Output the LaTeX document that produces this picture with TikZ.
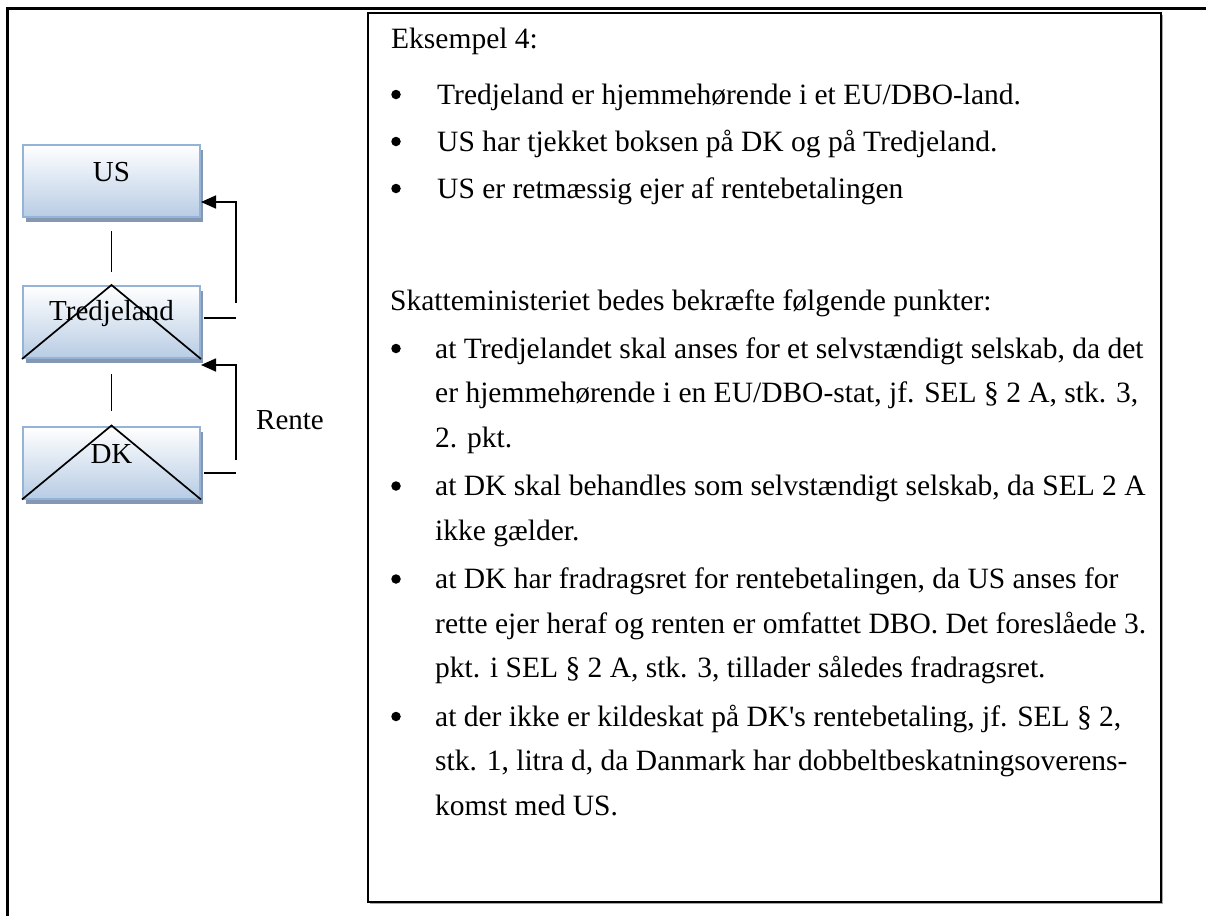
\documentclass[tikz,border=0pt]{standalone}
\usepackage{fontspec}
\usepackage{tikz}
\usetikzlibrary{arrows.meta,shadows}
\setmainfont{Liberation Serif}
\definecolor{boxblue}{HTML}{B8CCE4}
\definecolor{boxline}{HTML}{95B3D7}
\definecolor{shadowblue}{HTML}{8497B3}

\tikzset{
  land/.style={draw=boxline, line width=2pt, top color=white, bottom color=boxblue,
    minimum width=177pt, minimum height=72pt, inner sep=0pt,
    drop shadow={shadow xshift=3pt, shadow yshift=-5pt, fill=shadowblue, opacity=1}},
  lbl/.style={inner sep=0pt, font=\fontsize{29}{35}\selectfont},
  body/.style={anchor=base west, inner sep=0pt, font=\fontsize{29.5}{35}\selectfont},
  dot/.style={circle, fill=black, inner sep=0pt, minimum size=9.5pt, yshift=9.5pt},
  conn/.style={line width=1.7pt},
  pay/.style={line width=1.7pt, -{Triangle[length=15pt,width=13pt]}}
}

\begin{document}
\begin{tikzpicture}[x=1pt,y=-1pt]
\useasboundingbox (0,0) rectangle (1206,916);

% frame
\draw[line width=3pt] (7,916) -- (7,8) -- (1206,8);
\draw[line width=2.5pt, fill=white, drop shadow={shadow xshift=1.5pt, shadow yshift=-1.5pt, fill=black!35, opacity=1}]
  (368,13) rectangle (1161,902);

% countries
\node[land] (us) at (111.5,181) {};
\node[land] (tred) at (111.5,322) {};
\node[land] (dk) at (111.5,462.5) {};
\draw[conn] (tred.south west) -- (tred.north) -- (tred.south east);
\draw[conn] (dk.south west) -- (dk.north) -- (dk.south east);
\node[lbl] (uslbl) at ([yshift=9pt]us.center) {US};
\node[lbl] (tredlbl) at ([yshift=8pt]tred.center) {Tredjeland};
\node[lbl] (dklbl) at ([yshift=8pt]dk.center) {DK};

\draw[conn, shorten <=13pt, shorten >=13pt] (us.south) -- (tred.north);
\draw[conn, shorten <=15pt, shorten >=15pt] (tred.south) -- (dk.north);

% interest
\coordinate (tredout) at (236,318);
\coordinate (tredup) at (236,303);
\coordinate (dkout) at (236,473);
\coordinate (dkup) at (236,460);
\draw[conn] ([xshift=3pt,yshift=4pt]tred.east) -- (tredout);
\draw[pay] (tredup) |- ([yshift=-21pt]us.east);
\draw[conn] ([xshift=3pt,yshift=-10.5pt]dk.east) -- (dkout);
\draw[pay] (dkup) |- ([yshift=-43pt]tred.east);
\node[lbl] (rente) at (290,420) {Rente};

% text
\node[body] (ex) at (391,48) {Eksempel 4:};
\node[dot] (d1) at (396,104) {};
\node[body] (t1) at (437,104) {Tredjeland er hjemmehørende i et EU/DBO-land.};
\node[dot] (d2) at (396,151) {};
\node[body] (t2) at (437,151) {US har tjekket boksen på DK og på Tredjeland.};
\node[dot] (d3) at (396,198) {};
\node[body] (t3) at (437,198) {US er retmæssig ejer af rentebetalingen};

\node[body] (sk) at (390,310) {Skatteministeriet bedes bekræfte følgende punkter:};
\node[dot] (p1) at (396,358) {};
\node[body] (a1) at (435,358) {at Tredjelandet skal anses for et selvstændigt selskab, da det};
\node[body] (a2) at (435,402.5) {er hjemmehørende i en EU/DBO-stat, jf. SEL § 2 A, stk. 3,};
\node[body] (a3) at (435,447) {2. pkt.};
\node[dot] (p2) at (396,495.5) {};
\node[body] (b1) at (435,495.5) {at DK skal behandles som selvstændigt selskab, da SEL 2 A};
\node[body] (b2) at (435,540) {ikke gælder.};
\node[dot] (p3) at (396,588.5) {};
\node[body] (c1) at (435,588.5) {at DK har fradragsret for rentebetalingen, da US anses for};
\node[body] (c2) at (435,633) {rette ejer heraf og renten er omfattet DBO. Det foreslåede 3.};
\node[body] (c3) at (435,677.5) {pkt. i SEL § 2 A, stk. 3, tillader således fradragsret.};
\node[dot] (p4) at (396,726) {};
\node[body] (e1) at (435,726) {at der ikke er kildeskat på DK\textquotesingle s rentebetaling, jf. SEL § 2,};
\node[body] (e2) at (435,770.5) {stk. 1, litra d, da Danmark har dobbeltbeskatningsoverens-};
\node[body] (e3) at (435,815) {komst med US.};

\end{tikzpicture}
\end{document}
